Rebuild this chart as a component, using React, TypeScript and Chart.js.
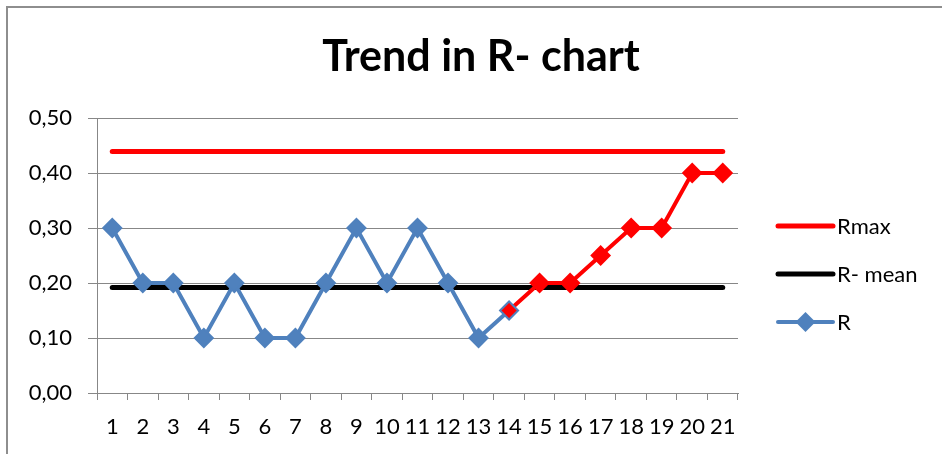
import React, { useEffect, useRef } from "react";
import { Chart, registerables } from "chart.js";

Chart.register(...registerables);

// ---- data ----
const categories = ["1","2","3","4","5","6","7","8","9","10","11","12","13","14","15","16","17","18","19","20","21"];
const rValues = [0.30, 0.20, 0.20, 0.10, 0.20, 0.10, 0.10, 0.20, 0.30, 0.20, 0.30, 0.20, 0.10, 0.15, 0.20, 0.20, 0.25, 0.30, 0.30, 0.40, 0.40];
const rMaxValue = 0.439;
const rMeanValue = 0.192;
const trendStartIndex = 13; // from sample 14 the trend is marked in red
const seriesNames = ["Rmax", "R- mean", "R"];
const chartTitle = "Trend in R- chart";
const yMin = 0;
const yMax = 0.5;
const yStep = 0.1;

const BLUE = "#4f81bd";
const RED = "#ff0000";
const BLACK = "#000000";
const GRID = "#878787";
const FONT = "Lato, 'Open Sans', sans-serif";

function drawDiamond(ctx: CanvasRenderingContext2D, x: number, y: number, r: number, fill: string) {
  ctx.beginPath();
  ctx.moveTo(x - r, y);
  ctx.lineTo(x, y - r);
  ctx.lineTo(x + r, y);
  ctx.lineTo(x, y + r);
  ctx.closePath();
  ctx.fillStyle = fill;
  ctx.fill();
}

const titlePlugin = {
  id: "centeredTitle",
  afterDraw(chart: any) {
    const ctx: CanvasRenderingContext2D = chart.ctx;
    ctx.save();
    ctx.fillStyle = "#000";
    ctx.font = `bold 43px ${FONT}`;
    ctx.textAlign = "center";
    ctx.textBaseline = "alphabetic";
    ctx.fillText(chartTitle, chart.width / 2 + 6, 63);
    ctx.restore();
  },
};

const legendPlugin = {
  id: "sideLegend",
  afterDraw(chart: any) {
    const ctx: CanvasRenderingContext2D = chart.ctx;
    const area = chart.chartArea;
    const x0 = area.right + 40;
    const x1 = x0 + 55;
    const rows = [
      { name: seriesNames[0], color: RED, marker: false, y: area.top + 108 },
      { name: seriesNames[1], color: BLACK, marker: false, y: area.top + 156 },
      { name: seriesNames[2], color: BLUE, marker: true, y: area.top + 204 },
    ];
    ctx.save();
    for (const r of rows) {
      ctx.beginPath();
      ctx.strokeStyle = r.color;
      ctx.lineWidth = r.marker ? 4 : 5;
      ctx.lineCap = "round";
      ctx.moveTo(x0, r.y);
      ctx.lineTo(x1, r.y);
      ctx.stroke();
      if (r.marker) drawDiamond(ctx, (x0 + x1) / 2, r.y, 10, BLUE);
      ctx.fillStyle = "#000";
      ctx.font = `22px ${FONT}`;
      ctx.textAlign = "left";
      ctx.textBaseline = "middle";
      ctx.fillText(r.name, x1 + 4, r.y + 1);
    }
    ctx.restore();
  },
};

export default function App() {
  const ref = useRef<HTMLCanvasElement | null>(null);

  useEffect(() => {
    if (!ref.current) return;
    const chart = new Chart(ref.current, {
      type: "line",
      data: {
        labels: categories,
        datasets: [
          {
            label: seriesNames[2],
            data: rValues,
            borderColor: BLUE,
            borderWidth: 4,
            segment: {
              borderColor: (c: any) => (c.p0DataIndex >= trendStartIndex ? RED : BLUE),
            },
            pointStyle: "rectRot",
            pointRadius: 9,
            pointBorderWidth: 2,
            pointBackgroundColor: rValues.map((_, i) => (i >= trendStartIndex ? RED : BLUE)),
            pointBorderColor: rValues.map((_, i) => (i > trendStartIndex ? RED : BLUE)),
            tension: 0,
            order: 0,
          },
          {
            label: seriesNames[1],
            data: categories.map(() => rMeanValue),
            borderColor: BLACK,
            borderWidth: 5,
            borderCapStyle: "round",
            pointRadius: 0,
            order: 1,
          },
          {
            label: seriesNames[0],
            data: categories.map(() => rMaxValue),
            borderColor: RED,
            borderWidth: 5,
            borderCapStyle: "round",
            pointRadius: 0,
            order: 2,
          },
        ],
      },
      options: {
        responsive: false,
        animation: false,
        layout: { padding: { left: 12, right: 204, top: 110, bottom: 0 } },
        plugins: {
          legend: { display: false },
          tooltip: { enabled: false },
          title: { display: false },
        },
        scales: {
          x: {
            type: "category",
            offset: true,
            grid: {
              display: true,
              offset: true,
              drawOnChartArea: false,
              drawTicks: true,
              tickLength: 7,
              color: GRID,
            },
            border: { display: true, color: GRID, width: 1 },
            ticks: {
              autoSkip: false,
              maxRotation: 0,
              minRotation: 0,
              padding: 14,
              color: "#000",
              font: { family: FONT, size: 22 },
            },
            afterFit: (s: any) => { s.height = 61; },
          },
          y: {
            min: yMin,
            max: yMax,
            grid: { color: GRID, tickLength: 9, drawTicks: true },
            border: { display: true, color: GRID, width: 1 },
            ticks: {
              stepSize: yStep,
              padding: 16,
              color: "#000",
              font: { family: FONT, size: 22 },
              callback: (v: any) => Number(v).toFixed(2).replace(".", ","),
            },
            afterFit: (s: any) => { s.width = 77; },
          },
        },
      },
      plugins: [titlePlugin, legendPlugin],
    } as any);
    return () => chart.destroy();
  }, []);

  return (
    <div
      style={{
        position: "absolute",
        left: 6,
        top: 6,
        width: 936,
        height: 448,
        borderLeft: "2px solid #8e8e8e",
        borderTop: "2px solid #8e8e8e",
        boxSizing: "border-box",
        background: "#fff",
        overflow: "hidden",
      }}
    >
      <canvas ref={ref} width={934} height={446} style={{ display: "block" }} />
    </div>
  );
}
